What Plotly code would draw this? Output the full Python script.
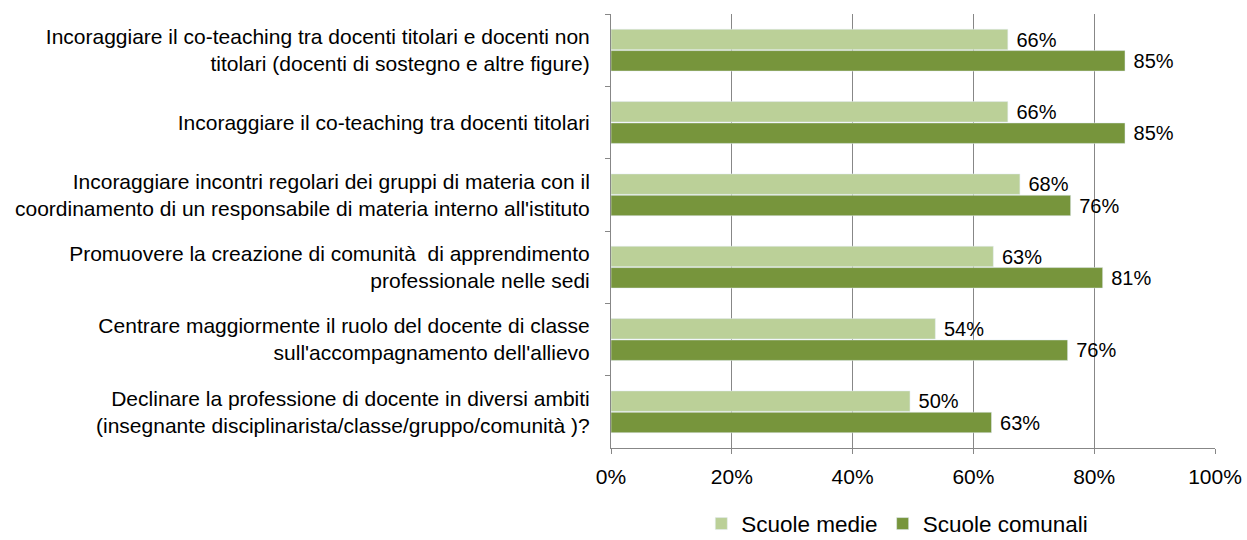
import plotly.graph_objects as go

categories = [
    "Incoraggiare il co-teaching tra docenti titolari e docenti non<br>titolari (docenti di sostegno e altre figure)",
    "Incoraggiare il co-teaching tra docenti titolari",
    "Incoraggiare incontri regolari dei gruppi di materia con il<br>coordinamento di un responsabile di materia interno all'istituto",
    "Promuovere la creazione di comunità  di apprendimento<br>professionale nelle sedi",
    "Centrare maggiormente il ruolo del docente di classe<br>sull'accompagnamento dell'allievo",
    "Declinare la professione di docente in diversi ambiti<br>(insegnante disciplinarista/classe/gruppo/comunità )?",
]
scuole_medie = [65.7, 65.7, 67.7, 63.3, 53.7, 49.5]
scuole_comunali = [85.1, 85.1, 76.1, 81.4, 75.6, 63.0]
x_ticks = [0, 20, 40, 60, 80, 100]

FONT = "Liberation Sans, Arial, sans-serif"

fig = go.Figure()
fig.add_trace(go.Bar(
    y=categories, x=scuole_medie, orientation="h", name="Scuole medie",
    marker=dict(color="#BBD098"),
    text=[f" {v:.0f}%" for v in scuole_medie], textposition="outside",
    constraintext="none",
    textfont=dict(size=20, color="#000000", family=FONT), cliponaxis=False,
))
fig.add_trace(go.Bar(
    y=categories, x=scuole_comunali, orientation="h", name="Scuole comunali",
    marker=dict(color="#77953C"),
    text=[f" {v:.0f}%" for v in scuole_comunali], textposition="outside",
    constraintext="none",
    textfont=dict(size=20, color="#000000", family=FONT), cliponaxis=False,
))

fig.update_layout(
    barmode="group", bargap=0.41, bargroupgap=0.04,
    width=1247, height=540,
    margin=dict(l=611, r=32, t=14, b=92, autoexpand=False),
    plot_bgcolor="white", paper_bgcolor="white",
    font=dict(family=FONT, size=21, color="#000000"),
    uniformtext=dict(mode=False),
    legend=dict(orientation="h", x=0.474, xanchor="center", y=-0.175, yanchor="middle",
                font=dict(size=22.5), traceorder="normal", itemwidth=30),
    showlegend=True,
)
fig.update_xaxes(
    range=[0, 100], tickvals=x_ticks, ticktext=[f"{t}%" for t in x_ticks],
    showgrid=True, gridcolor="#878787", gridwidth=1,
    showline=True, linecolor="#878787", linewidth=1,
    ticks="outside", ticklen=5, tickcolor="#878787",
    ticklabelstandoff=5, automargin=False, ticklabeloverflow="allow",
    tickfont=dict(size=21), zeroline=False,
)
fig.update_yaxes(
    autorange="reversed", showgrid=False,
    showline=True, linecolor="#878787", linewidth=1,
    ticks="outside", ticklen=5, tickcolor="#878787", tickson="boundaries",
    ticklabelstandoff=16, automargin=False, tickfont=dict(size=21),
)

fig.write_html("out.html", config={"displayModeBar": False},
               post_script="document.body.style.margin='0';")
